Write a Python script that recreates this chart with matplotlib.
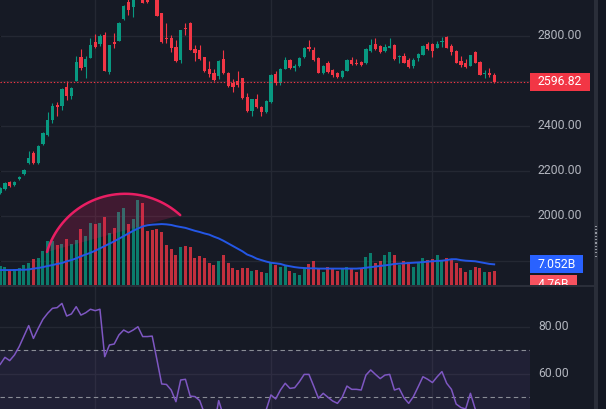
import numpy as np
import matplotlib
matplotlib.use('Agg')
import matplotlib.pyplot as plt
from matplotlib.patches import Rectangle, Polygon
from matplotlib.transforms import blended_transform_factory, IdentityTransform

W, H = 606, 409
BG = '#161a25'
GRID = '#242833'
UP = '#089981'
DN = '#f23645'
TXT = '#b2b5be'

opens = [2102, 2120, 2151, 2138, 2164, 2187, 2236, 2280, 2236, 2320,
         2360, 2427, 2493, 2489, 2573, 2533, 2600, 2707, 2662, 2702,
         2773, 2764, 2804, 2640, 2773, 2778, 2876, 2951, 2929, 2982,
         3005, 2968, 2995, 2972, 2902, 2791, 2791, 2751, 2693, 2836,
         2858, 2742, 2738, 2707, 2653, 2636, 2622, 2698, 2636, 2591,
         2600, 2613, 2529, 2467, 2520, 2484, 2462, 2507, 2631, 2591,
         2653, 2693, 2658, 2667, 2707, 2751, 2738, 2702, 2636, 2680,
         2649, 2636, 2618, 2644, 2693, 2680, 2684, 2680, 2733, 2764,
         2756, 2733, 2747, 2760, 2707, 2711, 2693, 2667, 2702, 2716,
         2764, 2764, 2747, 2773, 2796, 2756, 2733, 2689, 2680, 2667,
         2729, 2684, 2631, 2636, 2627]
highs = [2129, 2151, 2156, 2156, 2178, 2209, 2289, 2289, 2316, 2373,
         2462, 2502, 2507, 2569, 2600, 2573, 2711, 2742, 2711, 2791,
         2809, 2809, 2818, 2760, 2813, 2862, 2938, 2969, 2996, 3020,
         3015, 2975, 3005, 2985, 2902, 2858, 2804, 2782, 2827, 2858,
         2862, 2760, 2760, 2707, 2689, 2653, 2693, 2738, 2640, 2609,
         2644, 2613, 2547, 2520, 2542, 2489, 2516, 2631, 2644, 2658,
         2707, 2698, 2676, 2707, 2751, 2782, 2751, 2707, 2671, 2689,
         2653, 2640, 2649, 2698, 2707, 2698, 2689, 2747, 2787, 2791,
         2760, 2764, 2791, 2764, 2716, 2724, 2702, 2702, 2724, 2760,
         2773, 2769, 2778, 2796, 2800, 2764, 2738, 2711, 2698, 2716,
         2733, 2689, 2649, 2658, 2636]
lows = [2098, 2116, 2129, 2133, 2160, 2182, 2231, 2231, 2231, 2316,
        2356, 2413, 2444, 2471, 2516, 2520, 2600, 2649, 2613, 2702,
        2747, 2756, 2644, 2631, 2747, 2778, 2871, 2893, 2884, 2975,
        2947, 2945, 2965, 2887, 2769, 2769, 2729, 2684, 2680, 2804,
        2738, 2689, 2693, 2640, 2618, 2600, 2609, 2631, 2573, 2551,
        2573, 2520, 2462, 2444, 2480, 2444, 2458, 2502, 2582, 2582,
        2653, 2653, 2644, 2662, 2702, 2733, 2689, 2636, 2631, 2636,
        2618, 2613, 2613, 2644, 2671, 2671, 2667, 2676, 2729, 2738,
        2724, 2729, 2747, 2693, 2680, 2680, 2658, 2658, 2689, 2716,
        2738, 2707, 2747, 2751, 2747, 2716, 2680, 2662, 2658, 2667,
        2680, 2627, 2613, 2618, 2591]
closes = [2125, 2147, 2133, 2151, 2173, 2204, 2258, 2236, 2311, 2369,
          2427, 2489, 2484, 2564, 2533, 2569, 2684, 2658, 2698, 2760,
          2751, 2800, 2644, 2760, 2764, 2858, 2933, 2916, 2982, 3010,
          2948, 2950, 2975, 2889, 2773, 2787, 2747, 2689, 2827, 2831,
          2738, 2724, 2698, 2644, 2631, 2604, 2689, 2636, 2578, 2573,
          2582, 2524, 2467, 2520, 2484, 2462, 2511, 2627, 2591, 2653,
          2693, 2658, 2667, 2702, 2747, 2742, 2693, 2636, 2667, 2640,
          2627, 2618, 2644, 2693, 2676, 2676, 2671, 2742, 2760, 2742,
          2729, 2751, 2756, 2698, 2711, 2680, 2662, 2693, 2720, 2756,
          2742, 2733, 2764, 2778, 2747, 2729, 2680, 2671, 2662, 2716,
          2680, 2627, 2636, 2627, 2596.82]
# volume in billions
volumes = [6.5, 6.0, 4.9, 5.3, 5.7, 6.8, 7.6, 8.8, 9.1, 11.6,
           15.0, 14.9, 13.7, 13.9, 15.6, 14.0, 15.4, 19.0, 16.7, 21.3,
           20.8, 21.1, 23.1, 17.6, 19.3, 24.8, 26.4, 20.8, 22.6, 29.0,
           27.9, 18.4, 18.8, 19.0, 18.0, 13.5, 12.2, 10.2, 12.9, 13.3,
           12.9, 9.1, 9.9, 9.1, 7.4, 6.8, 8.2, 10.2, 7.4, 5.7,
           5.1, 5.7, 5.7, 4.8, 5.1, 4.4, 4.0, 8.0, 6.8, 6.3,
           6.8, 4.8, 4.0, 3.3, 5.9, 7.3, 8.2, 5.9, 4.4, 6.1,
           5.7, 4.9, 5.5, 6.1, 5.7, 4.4, 5.6, 9.6, 11.0, 7.6,
           8.2, 10.2, 11.4, 10.2, 6.8, 8.2, 7.7, 6.3, 7.4, 9.1,
           8.5, 8.9, 10.2, 8.2, 9.3, 8.5, 7.4, 5.9, 4.4, 5.1,
           6.3, 5.9, 4.4, 4.4, 4.76]
vol_ma = [5.1, 5.1, 5.1, 5.1, 5.2, 5.2, 5.3, 5.6, 5.8, 6.1,
          6.5, 6.8, 7.2, 7.5, 8.1, 8.5, 9.1, 9.8, 10.4, 11.0,
          11.7, 12.5, 13.3, 14.1, 14.9, 15.8, 16.7, 17.6, 18.5, 19.3,
          20.0, 20.4, 20.6, 20.7, 20.8, 20.7, 20.5, 20.1, 19.8, 19.5,
          19.0, 18.5, 18.1, 17.6, 17.2, 16.5, 15.9, 15.1, 14.2, 13.3,
          12.4, 11.5, 10.4, 9.8, 9.0, 8.5, 8.0, 7.6, 7.4, 7.2,
          6.7, 6.4, 6.1, 5.9, 5.8, 5.7, 5.7, 5.6, 5.6, 5.6,
          5.6, 5.6, 5.6, 5.6, 5.6, 5.6, 5.7, 5.9, 6.1, 6.3,
          6.5, 6.7, 6.9, 7.2, 7.3, 7.4, 7.5, 7.6, 7.7, 7.8,
          8.0, 8.1, 8.2, 8.3, 8.5, 8.8, 8.8, 8.5, 8.3, 8.2,
          8.1, 7.8, 7.5, 7.2, 7.052]
rsi = [64.0, 67.0, 65.6, 68.0, 71.6, 76.1, 80.6, 75.1, 79.4, 83.3,
       85.9, 88.0, 88.3, 90.1, 84.7, 85.6, 88.7, 85.1, 86.1, 87.6,
       87.0, 87.6, 67.3, 72.3, 72.7, 76.6, 78.7, 77.6, 78.7, 80.1,
       75.9, 75.9, 76.1, 66.0, 55.6, 55.4, 53.0, 48.0, 57.3, 57.6,
       50.4, 50.2, 48.5, 43.0, 40.0, 37.0, 48.5, 42.0, 38.0, 36.0,
       35.0, 33.0, 29.0, 35.0, 33.0, 31.0, 44.5, 50.9, 49.2, 53.0,
       55.9, 53.7, 54.0, 56.6, 59.7, 59.7, 54.7, 49.5, 51.6, 49.9,
       48.3, 47.3, 49.9, 54.7, 53.3, 53.3, 53.0, 59.4, 61.6, 59.7,
       57.9, 59.4, 59.7, 53.0, 53.7, 49.7, 47.3, 50.2, 54.4, 58.7,
       57.6, 56.2, 58.7, 60.9, 55.9, 53.3, 47.0, 45.5, 44.9, 51.6,
       44.9, 42.0, 42.5, 41.5, 39.0]

price_ticks = [1800, 2000, 2200, 2400, 2600, 2800]
price_labels = [2000, 2200, 2400, 2800]   # 1800 and 2600 are hidden by the value tags
rsi_ticks = [60, 80]
rsi_bands = [70, 50, 30]
time_grid = [20, 57, 91]
last_price = 2596.82
ma_label = '7.052B'
vol_label = '4.76B'
arc_idx = [9.85, 25.2, 37.9]
arc_price = [1840, 2098, 2004]

n = len(closes)
x = np.arange(n)
o = np.array(opens, float); c = np.array(closes, float)
hi = np.array(highs, float); lo = np.array(lows, float)
up = c >= o
cols = np.where(up, UP, DN)

fig = plt.figure(figsize=(W / 100, H / 100), dpi=100, facecolor=BG)
plot_w = 530 / W
ax = fig.add_axes([0, 1 - 285 / H, plot_w, 285 / H])
ax.set_facecolor(BG)
ax.set_xlim(-0.04, 111.54)
ax.set_ylim(1693.3, 2960)
for s in ax.spines.values():
    s.set_visible(False)
ax.set_yticks(price_ticks)
ax.set_xticks(time_grid)
ax.tick_params(left=False, bottom=False, labelleft=False, labelbottom=False)
ax.grid(True, color=GRID, lw=1)
ax.set_axisbelow(True)

# candles
ax.vlines(x, lo, hi, colors=cols, lw=0.8, zorder=3)
body_h = np.maximum(np.abs(c - o), 2.5)
ax.bar(x, body_h, bottom=np.minimum(o, c), width=0.68, color=cols, zorder=4, linewidth=0)
ax.axhline(last_price, color=DN, lw=0.8, ls=(0, (1.2, 1.8)), zorder=5)

# volume
axv = ax.twinx()
axv.set_ylim(0, 97.3)
axv.set_xlim(-0.04, 111.54)
axv.axis('off')
axv.bar(x, volumes, width=0.65, color=cols, alpha=0.78, linewidth=0, zorder=2)
axv.plot(x, vol_ma, color='#2457e6', lw=1.4, zorder=3)

# arc drawing
pts = ax.transData.transform(np.column_stack([arc_idx, arc_price]))
(x1, y1), (x2, y2), (x3, y3) = pts
d = 2 * (x1 * (y2 - y3) + x2 * (y3 - y1) + x3 * (y1 - y2))
ux = ((x1**2 + y1**2) * (y2 - y3) + (x2**2 + y2**2) * (y3 - y1) + (x3**2 + y3**2) * (y1 - y2)) / d
uy = ((x1**2 + y1**2) * (x3 - x2) + (x2**2 + y2**2) * (x1 - x3) + (x3**2 + y3**2) * (x2 - x1)) / d
r = np.hypot(x1 - ux, y1 - uy)
a1 = np.arctan2(y1 - uy, x1 - ux)
a2 = np.arctan2(y2 - uy, x2 - ux)
a3 = np.arctan2(y3 - uy, x3 - ux)
two = 2 * np.pi
a2c = a1 + ((a2 - a1) % two)
a3c = a1 + ((a3 - a1) % two)
if a2c <= a3c:
    ang = np.linspace(a1, a3c, 200)
else:
    ang = np.linspace(a1, a1 - ((a1 - a3) % two), 200)
arc_disp = np.column_stack([ux + r * np.cos(ang), uy + r * np.sin(ang)])
arc_data = axv.transData.inverted().transform(arc_disp)
axv.add_patch(Polygon(arc_data, closed=True, facecolor='#e91e63', alpha=0.2,
                      edgecolor='none', zorder=4))
axv.plot(arc_data[:, 0], arc_data[:, 1], color='#e91e63', lw=1.8, zorder=5,
         solid_capstyle='round')

# RSI pane
axr = fig.add_axes([0, 0, plot_w, 122 / H])
axr.set_facecolor(BG)
axr.set_xlim(-0.04, 111.54)
axr.set_ylim(44.88, 97.13)
for s in axr.spines.values():
    s.set_visible(False)
axr.set_yticks(rsi_ticks)
axr.set_xticks(time_grid)
axr.tick_params(left=False, bottom=False, labelleft=False, labelbottom=False)
axr.grid(True, color=GRID, lw=1)
axr.set_axisbelow(True)
axr.axhspan(rsi_bands[2], rsi_bands[0], color='#7e57c2', alpha=0.1, lw=0)
for b in rsi_bands:
    axr.axhline(b, color='#8a8d96', lw=0.8, ls=(0, (4, 3)))
axr.plot(x, rsi, color='#7e57c2', lw=1.1)

# right price scale labels
font = dict(family='Roboto', size=8.8, color=TXT)
btr = blended_transform_factory(fig.transFigure, ax.transData)
for p in price_labels:
    fig.text(538 / W, p, f'{p:.2f}', transform=btr, va='center', ha='left',
             zorder=3, **font)
btr_r = blended_transform_factory(fig.transFigure, axr.transData)
for p in rsi_ticks:
    fig.text(538 / W, p, f'{p:.2f}', transform=btr_r, va='center', ha='left',
             zorder=7, **font)

ident = IdentityTransform()
# last price label
yp = ax.transData.transform((0, last_price))[1]
fig.add_artist(Rectangle((530, yp - 9), 60, 18, transform=ident, facecolor=DN,
                         edgecolor='none', zorder=4))
fig.text(538 / W, last_price, f'{last_price:.2f}', transform=btr, va='center',
         ha='left', zorder=4.5, family='Roboto', size=8.8, color='white')
# volume MA label
ym = axv.transData.transform((0, vol_ma[-1]))[1]
fig.add_artist(Rectangle((530, ym - 9), 53, 18, transform=ident, facecolor='#2962ff',
                         edgecolor='none', zorder=4.2))
fig.text(538, ym, ma_label, transform=ident, va='center', ha='left', zorder=4.6,
         family='Roboto', size=8.8, color='white')
# last volume label (pushed down, partially hidden)
yv = H - 284
fig.add_artist(Rectangle((530, yv - 9), 47, 18, transform=ident, facecolor='#f7525f',
                         edgecolor='none', zorder=4.1))
fig.text(538, yv, vol_label, transform=ident, va='center', ha='left', zorder=4.5,
         family='Roboto', size=8.8, color='white')

# cover of RSI scale area, separators, right strip
fig.add_artist(Rectangle((530, 0), 64, 122, transform=ident, facecolor=BG,
                         edgecolor='none', zorder=5))
fig.add_artist(Rectangle((0, H - 286.5), 595, 2, transform=ident, facecolor='#2a2e39',
                         edgecolor='none', zorder=6))
fig.add_artist(Rectangle((594, 0), 4, H, transform=ident, facecolor='#2a2e39',
                         edgecolor='none', zorder=6))
fig.add_artist(Rectangle((598, 0), 8, H, transform=ident, facecolor='#131722',
                         edgecolor='none', zorder=6))
for k in range(10):
    fig.add_artist(Rectangle((595, H - 227 - k * 3.3), 2, 1.2, transform=ident,
                             facecolor='#9598a1', edgecolor='none', zorder=7))

fig.savefig('out.png', dpi=100, facecolor=BG)
